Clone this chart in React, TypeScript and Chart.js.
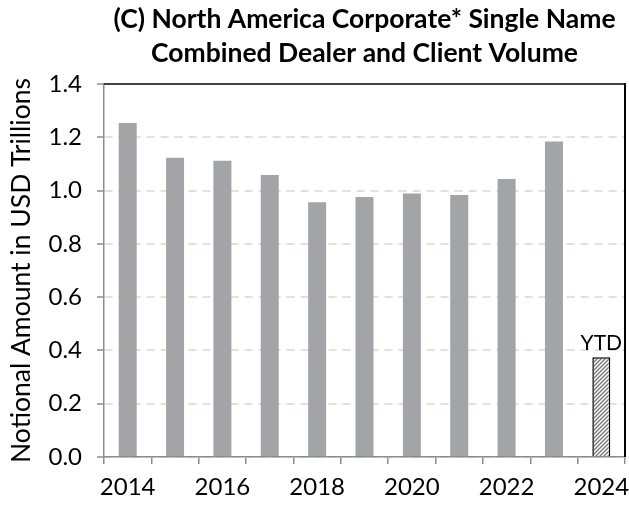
import { useEffect, useRef } from 'react';
import { Chart, registerables } from 'chart.js';

Chart.register(...registerables);

const categories = ['2014', '2015', '2016', '2017', '2018', '2019', '2020', '2021', '2022', '2023', '2024'];
const volumes = [1.254, 1.123, 1.112, 1.058, 0.956, 0.976, 0.989, 0.983, 1.043, 1.184, 0.374];
const ytdIndex = 10;
const ytdLabel = 'YTD';
const titleLines = ['(C) North America Corporate* Single Name', 'Combined Dealer and Client Volume'];
const yAxisTitle = 'Notional Amount in USD Trillions';
const yMin = 0;
const yMax = 1.4;
const yStep = 0.2;

const FONT = 'Lato';

function makeHatch(): CanvasPattern | string {
  const s = 4;
  const c = document.createElement('canvas');
  c.width = s;
  c.height = s;
  const g = c.getContext('2d');
  if (!g) return '#bbbbbb';
  g.fillStyle = '#ffffff';
  g.fillRect(0, 0, s, s);
  g.strokeStyle = '#787878';
  g.lineWidth = 1.4;
  g.beginPath();
  g.moveTo(0, s);
  g.lineTo(s, 0);
  g.moveTo(-1, 1);
  g.lineTo(1, -1);
  g.moveTo(s - 1, s + 1);
  g.lineTo(s + 1, s - 1);
  g.stroke();
  const p = g.createPattern(c, 'repeat');
  return p || '#bbbbbb';
}

export default function App() {
  const ref = useRef<HTMLCanvasElement>(null);

  useEffect(() => {
    document.body.style.margin = '0';
    const canvas = ref.current;
    if (!canvas) return;
    const hatch = makeHatch();

    const frame = {
      id: 'frame',
      afterDraw(chart: any) {
        const { ctx, chartArea } = chart;
        ctx.save();
        ctx.strokeStyle = '#404040';
        ctx.lineWidth = 2;
        ctx.beginPath();
        ctx.moveTo(chartArea.left, chartArea.top);
        ctx.lineTo(chartArea.right, chartArea.top);
        ctx.stroke();
        ctx.strokeStyle = '#000000';
        ctx.beginPath();
        ctx.moveTo(chartArea.right, chartArea.top - 1);
        ctx.lineTo(chartArea.right, chartArea.bottom);
        ctx.stroke();
        ctx.restore();
      },
    };

    const ytd = {
      id: 'ytd',
      afterDatasetsDraw(chart: any) {
        const bar = chart.getDatasetMeta(0).data[ytdIndex];
        if (!bar) return;
        const { ctx } = chart;
        ctx.save();
        ctx.fillStyle = '#000000';
        ctx.font = `21px ${FONT}`;
        ctx.textAlign = 'center';
        ctx.textBaseline = 'bottom';
        ctx.fillText(ytdLabel, bar.x, bar.y - 4);
        ctx.restore();
      },
    };

    const colors = volumes.map((_, i) => (i === ytdIndex ? hatch : '#a2a4a7'));
    const borders = volumes.map((_, i) => (i === ytdIndex ? 1.5 : 0));

    const chart = new Chart(canvas, {
      type: 'bar',
      data: {
        labels: categories,
        datasets: [
          {
            data: volumes,
            backgroundColor: colors as any,
            borderColor: '#000000',
            borderWidth: borders,
            categoryPercentage: 1,
            barPercentage: 0.38,
          },
        ],
      },
      options: {
        responsive: false,
        animation: false,
        devicePixelRatio: 1,
        layout: { padding: { left: 0, right: 4, top: 0, bottom: 0 } },
        plugins: {
          legend: { display: false },
          tooltip: { enabled: false },
          title: {
            display: true,
            fullSize: false,
            text: titleLines,
            color: '#000000',
            font: { family: FONT, size: 26.5, weight: 'bold', lineHeight: 34 / 26.5 },
            padding: { top: 2, bottom: 14 },
          },
        },
        scales: {
          x: {
            grid: {
              display: true,
              drawOnChartArea: false,
              drawTicks: true,
              tickLength: 7,
              color: '#8c8c8c',
              lineWidth: 1.5,
              offset: true,
            },
            border: { color: '#8c8c8c', width: 1.5 },
            ticks: {
              autoSkip: false,
              maxRotation: 0,
              color: '#000000',
              font: { family: FONT, size: 24 },
              padding: 9,
              callback: (_v: any, i: number) => (i % 2 === 0 ? categories[i] : ''),
            },
            afterFit: (s: any) => {
              s.height = 51;
              s.paddingLeft = 0;
              s.paddingRight = 0;
            },
          },
          y: {
            min: yMin,
            max: yMax,
            grid: {
              color: '#e6e2d2',
              lineWidth: 2,
              tickColor: '#8c8c8c',
              tickLength: 7,
              tickWidth: 1.5,
              tickBorderDash: [],
            },
            border: { color: '#8c8c8c', width: 1.5, dash: [8, 6] },
            ticks: {
              stepSize: yStep,
              color: '#000000',
              font: { family: FONT, size: 24 },
              padding: 15,
              callback: (v: any) => Number(v).toFixed(1),
            },
            title: {
              display: true,
              text: yAxisTitle,
              color: '#000000',
              font: { family: FONT, size: 26.5, lineHeight: 1.2 },
              padding: { top: 6, bottom: 0 },
            },
            afterFit: (s: any) => {
              s.width = 104;
              s.paddingTop = 0;
              s.paddingBottom = 0;
            },
          },
        },
      },
      plugins: [frame, ytd],
    });

    return () => chart.destroy();
  }, []);

  return (
    <div style={{ width: 629, height: 508 }}>
      <canvas ref={ref} width={629} height={508} style={{ display: 'block' }} />
    </div>
  );
}
